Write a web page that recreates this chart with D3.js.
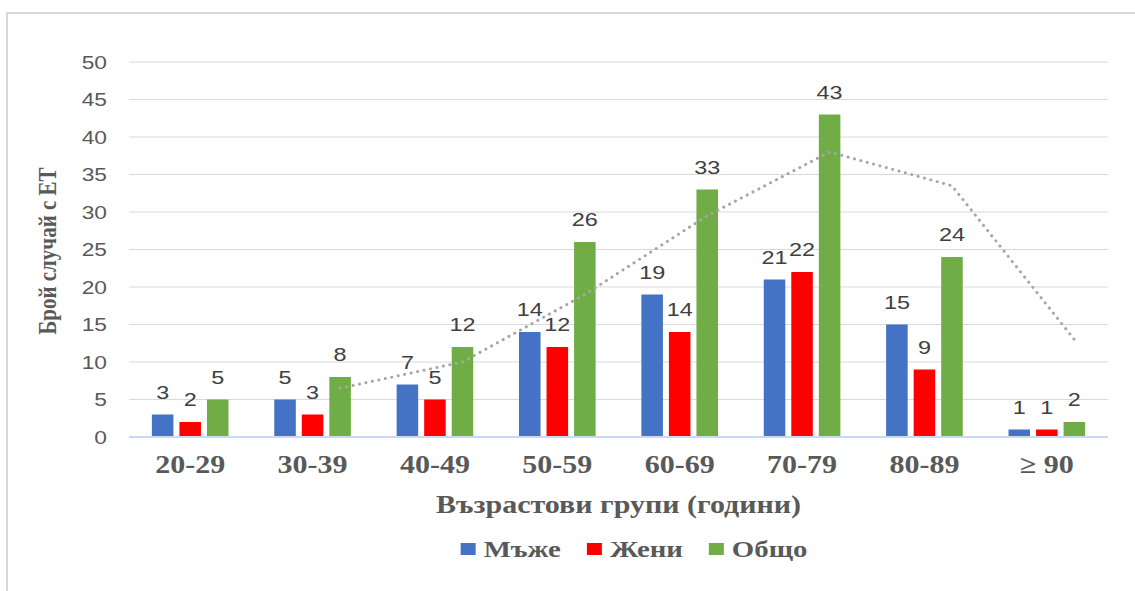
<!DOCTYPE html>
<html>
<head>
<meta charset="utf-8">
<script src="https://cdn.jsdelivr.net/npm/d3@7"></script>
<style>
  html, body { margin: 0; padding: 0; background: #ffffff; }
  svg { display: block; }
</style>
</head>
<body>
<svg id="chart" width="1135" height="591"></svg>
<script>
// Age groups and case counts
const categories = ["20-29", "30-39", "40-49", "50-59", "60-69", "70-79", "80-89", "\u2265 90"];
const seriesNames = ["Мъже", "Жени", "Общо"];
const seriesColors = ["#4472C4", "#FF0000", "#70AD47"];
const men   = [3, 5, 7, 14, 19, 21, 15, 1];
const women = [2, 3, 5, 12, 14, 22, 9, 1];
const total = [5, 8, 12, 26, 33, 43, 24, 2];
const yTicks = [0, 5, 10, 15, 20, 25, 30, 35, 40, 45, 50];

const yTitle = "Брой случай с ЕТ";
const xTitle = "Възрастови групи (години)";

const series = [men, women, total];

const W = 1135, H = 591;
const plot = { left: 129, right: 1108, top: 62, bottom: 437 };
const SX = 1.2;      // horizontal stretch for serif text
const SXN = 1.3;     // horizontal stretch for numeric labels
const serif = "'Liberation Serif', 'Times New Roman', serif";
const sans = "'Liberation Sans', Arial, sans-serif";
const textGray = "#595959";

const svg = d3.select("#chart");

// outer frame
svg.append("rect")
  .attr("x", 7).attr("y", 13)
  .attr("width", W + 20).attr("height", H + 20)
  .attr("fill", "#ffffff")
  .attr("stroke", "#D9D9D9").attr("stroke-width", 2);

const x = d3.scaleBand().domain(categories).range([plot.left, plot.right]).padding(0);
const y = d3.scaleLinear().domain([0, 50]).range([plot.bottom, plot.top]);

const band = x.bandwidth();
const barW = band * 0.176;
const barStep = band * 0.225;
const barCenter = (cat, s) => x(cat) + band / 2 + (s - 1) * barStep;

// gridlines
svg.append("g").selectAll("line")
  .data(yTicks.filter(t => t > 0))
  .join("line")
  .attr("x1", plot.left).attr("x2", plot.right)
  .attr("y1", d => y(d)).attr("y2", d => y(d))
  .attr("stroke", "#D9D9D9").attr("stroke-width", 1);

// y axis labels
const yAxis = svg.append("g")
  .attr("transform", `translate(${plot.left},0)`)
  .call(d3.axisLeft(y).tickValues(yTicks).tickSize(0).tickPadding(0));
yAxis.select(".domain").remove();
yAxis.selectAll("text")
  .attr("x", -22 / SXN)
  .attr("dy", "0.35em")
  .attr("transform", `scale(${SXN},1)`)
  .attr("fill", textGray)
  .style("font-family", sans)
  .style("font-size", "17.5px");

// bars
series.forEach((vals, s) => {
  svg.append("g").selectAll("rect")
    .data(vals)
    .join("rect")
    .attr("x", (d, i) => barCenter(categories[i], s) - barW / 2)
    .attr("y", d => y(d))
    .attr("width", barW)
    .attr("height", d => y(0) - y(d))
    .attr("fill", seriesColors[s]);
});

// baseline
svg.append("line")
  .attr("x1", plot.left).attr("x2", plot.right)
  .attr("y1", y(0)).attr("y2", y(0))
  .attr("stroke", "#C9DAF0").attr("stroke-width", 2);

// two-period moving average of the totals
const trend = total.slice(1).map((v, k) => ({ cat: categories[k + 1], v: (total[k] + v) / 2 }));
svg.append("path")
  .datum(trend)
  .attr("d", d3.line().x(d => barCenter(d.cat, 2)).y(d => y(d.v)))
  .attr("fill", "none")
  .attr("stroke", "#A6A6A6")
  .attr("stroke-width", 3)
  .attr("stroke-linecap", "round")
  .attr("stroke-dasharray", "0.1 6.5");

// value labels
series.forEach((vals, s) => {
  svg.append("g").selectAll("text")
    .data(vals)
    .join("text")
    .attr("transform", (d, i) => `translate(${barCenter(categories[i], s)},${y(d) - 16}) scale(${SXN},1)`)
    .attr("text-anchor", "middle")
    .attr("fill", "#404040")
    .style("font-family", sans)
    .style("font-size", "18px")
    .text(d => d);
});

// category axis
const xAxis = svg.append("g")
  .attr("transform", `translate(0,${plot.bottom})`)
  .call(d3.axisBottom(x).tickSize(0).tickPadding(0));
xAxis.select(".domain").remove();
xAxis.selectAll("text")
  .attr("y", 36)
  .attr("dy", 0)
  .attr("x", 0)
  .attr("transform", `scale(${SX},1)`)
  .attr("fill", textGray)
  .style("font-family", serif)
  .style("font-weight", "bold")
  .style("font-size", "25px");

// x axis title
svg.append("text")
  .attr("transform", `translate(${(plot.left + plot.right) / 2},513) scale(${SX},1)`)
  .attr("text-anchor", "middle")
  .attr("fill", textGray)
  .style("font-family", serif)
  .style("font-weight", "bold")
  .style("font-size", "25px")
  .text(xTitle);

// y axis title (glyph heights widened like the other text)
svg.append("text")
  .attr("transform", `translate(56,251) rotate(-90) scale(1,${SX})`)
  .attr("text-anchor", "middle")
  .attr("fill", textGray)
  .style("font-family", serif)
  .style("font-weight", "bold")
  .style("font-size", "21px")
  .text(yTitle);

// legend
const legend = svg.append("g");
const items = legend.selectAll("g").data(seriesNames).join("g");
items.append("rect")
  .attr("y", -14).attr("width", 15).attr("height", 12)
  .attr("fill", (d, i) => seriesColors[i]);
items.append("text")
  .attr("transform", `translate(23,0) scale(${SX},1)`)
  .attr("fill", textGray)
  .style("font-family", serif)
  .style("font-weight", "bold")
  .style("font-size", "24px")
  .text(d => d);
let cursor = 0;
items.each(function () {
  const g = d3.select(this);
  const tw = g.select("text").node().getComputedTextLength() * SX;
  g.attr("transform", `translate(${cursor},0)`);
  cursor += 23 + tw + 26;
});
const legendW = cursor - 26;
legend.attr("transform", `translate(${634 - legendW / 2},557)`);
</script>
</body>
</html>
